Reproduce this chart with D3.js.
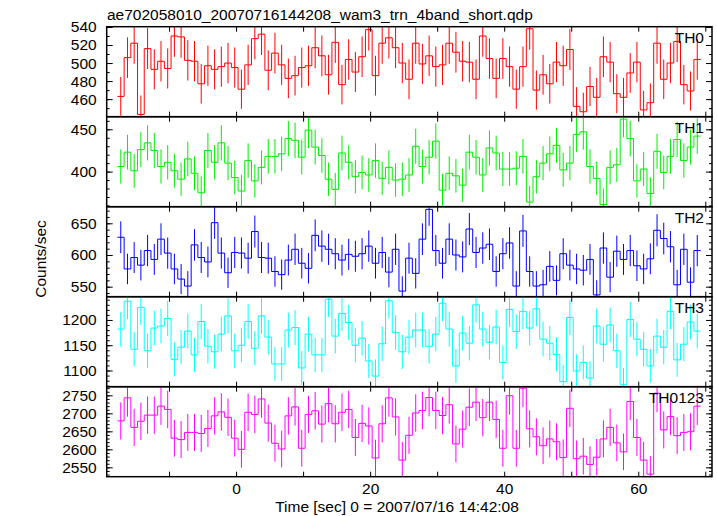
<!DOCTYPE html>
<html><head><meta charset="utf-8">
<script src="https://cdn.jsdelivr.net/npm/d3@7"></script>
<style>
body{margin:0;background:#fff;}
svg{display:block;font-family:"Liberation Sans",Arial,Helvetica,sans-serif;}
</style></head>
<body>
<svg id="chart" width="717" height="516"></svg>
<script>
const title = "ae702058010_20070716144208_wam3_trn_4band_short.qdp";
const xLabel = "Time [sec] 0 = 2007/07/16 14:42:08";
const yLabel = "Counts/sec";
const panelNames = ["TH0","TH1","TH2","TH3","TH0123"];
const colors = ["#ff0000","#00ee00","#0000ff","#00ffff","#ff00ff"];
const binWidth = 1;
const time = [-17.2,-16.2,-15.2,-14.2,-13.2,-12.2,-11.2,-10.2,-9.2,-8.2,
-7.2,-6.2,-5.2,-4.2,-3.2,-2.2,-1.2,-0.2,0.8,1.8,
2.8,3.8,4.8,5.8,6.8,7.8,8.8,9.8,10.8,11.8,
12.8,13.8,14.8,15.8,16.8,17.8,18.8,19.8,20.8,21.8,
22.8,23.8,24.8,25.8,26.8,27.8,28.8,29.8,30.8,31.8,
32.8,33.8,34.8,35.8,36.8,37.8,38.8,39.8,40.8,41.8,
42.8,43.8,44.8,45.8,46.8,47.8,48.8,49.8,50.8,51.8,
52.8,53.8,54.8,55.8,56.8,57.8,58.8,59.8,60.8,61.8,
62.8,63.8,64.8,65.8,66.8,67.8,68.8];
const th0 = [463,506,522,443,516,493,502,494,530,529,503,502,477,497,493,496,500,495,471,498,527,532,492,511,498,483,486,495,497,517,508,487,523,476,504,490,507,537,486,522,528,517,500,482,522,499,508,496,498,522,512,502,501,482,530,505,483,505,496,471,496,538,470,487,477,501,497,515,452,446,474,462,507,501,466,462,489,501,448,456,522,482,500,524,476,469,504];
const th1 = [406,423,401,426,434,425,406,411,401,391,415,398,375,425,411,434,410,393,377,413,389,405,418,418,421,439,437,417,449,429,419,391,379,422,411,394,399,396,413,392,405,390,391,396,430,406,417,436,378,398,395,384,423,417,396,428,422,403,403,404,418,364,394,410,421,431,402,410,444,447,406,392,361,405,408,462,439,389,403,374,424,399,418,438,413,429,442];
const th2 = [628,578,596,584,607,593,625,603,578,562,551,616,596,589,651,603,572,604,603,595,637,596,595,574,569,592,609,587,579,631,614,609,602,592,601,598,602,614,587,604,573,609,543,595,571,625,672,607,587,625,600,597,641,604,611,617,574,602,619,551,638,574,551,553,582,560,602,584,578,576,593,537,611,565,606,593,607,583,578,594,639,626,613,553,609,557,607];
const th3 = [1182,1237,1142,1225,1139,1184,1188,1203,1122,1146,1178,1131,1197,1148,1137,1172,1208,1139,1150,1197,1144,1208,1166,1113,1113,1180,1185,1105,1172,1131,1131,1241,1168,1213,1195,1150,1164,1119,1089,1153,1238,1175,1137,1166,1180,1180,1148,1172,1233,1182,1109,1174,1154,1230,1182,1156,1186,1116,1221,1177,1217,1184,1222,1162,1154,1132,1078,1205,1099,1116,1085,1188,1152,1190,1139,1072,1201,1162,1142,1109,1168,1146,1217,1121,1152,1196,1178];
const th0123 = [2679,2743,2661,2678,2695,2695,2720,2711,2631,2627,2647,2647,2644,2658,2693,2704,2689,2631,2600,2703,2697,2740,2673,2617,2601,2693,2718,2603,2697,2707,2670,2727,2671,2703,2711,2633,2672,2665,2576,2671,2743,2690,2570,2639,2701,2708,2744,2708,2694,2724,2615,2656,2717,2731,2688,2731,2683,2603,2749,2603,2770,2657,2635,2610,2629,2621,2577,2714,2574,2581,2558,2578,2629,2661,2618,2593,2733,2633,2570,2531,2756,2654,2691,2638,2647,2649,2720];
const series = [th0, th1, th2, th3, th0123];
const yDomains = [[440.5,540.3],[358.5,464.9],[534.2,676.2],[1068,1246],[2524,2774]];
const yMajorTicks = [[460,480,500,520,540],[400,450],[550,600,650],[1100,1150,1200],[2550,2600,2650,2700,2750]];
const yMinorStep = [10,10,10,10,10];
const xDomain = [-19.3, 71.0];
const xTicks = [-10,0,10,20,30,40,50,60,70];
const xTickLabels = [0,20,40,60];

const svg = d3.select("#chart");
const left = 106.7, right = 712, top0 = 26.7, panelH = 90, fs = 15.5;
const x = d3.scaleLinear().domain(xDomain).range([left, right]);

svg.append("text").attr("x", 107).attr("y", 20).attr("font-size", fs).text(title);

series.forEach((vals, i) => {
  const top = top0 + i * panelH, bot = top + panelH;
  const y = d3.scaleLinear().domain(yDomains[i]).range([bot, top]);
  const g = svg.append("g");
  const cid = "clip" + i;
  svg.append("clipPath").attr("id", cid).append("rect")
    .attr("x", left).attr("y", top).attr("width", right - left).attr("height", panelH);
  const dg = g.append("g").attr("clip-path", `url(#${cid})`);
  const data = vals.map((v, k) => ({t: time[k], v: v, e: Math.sqrt(v * binWidth) / binWidth}));
  dg.selectAll("line.err").data(data).join("line").attr("class","err")
    .attr("x1", d => x(d.t)).attr("x2", d => x(d.t))
    .attr("y1", d => y(d.v - d.e)).attr("y2", d => y(d.v + d.e))
    .attr("stroke", colors[i]).attr("stroke-width", 1);
  const pts = [];
  data.forEach(d => { pts.push([d.t - binWidth/2, d.v]); pts.push([d.t + binWidth/2, d.v]); });
  dg.append("path").datum(pts)
    .attr("d", d3.line().x(p => x(p[0])).y(p => y(p[1])))
    .attr("fill","none").attr("stroke", colors[i]).attr("stroke-width", 1);

  const minors = d3.range(Math.ceil(yDomains[i][0]/yMinorStep[i])*yMinorStep[i], yDomains[i][1], yMinorStep[i]);
  const axL = g.append("g").attr("transform", `translate(${left},0)`)
    .call(d3.axisLeft(y).tickValues(yMajorTicks[i]).tickSize(-6).tickPadding(10).tickFormat(d3.format("d")));
  axL.select(".domain").remove();
  axL.selectAll("text").attr("font-size", fs).attr("font-family", "Liberation Sans,Arial,sans-serif").attr("fill","#000");
  const axLm = g.append("g").attr("transform", `translate(${left},0)`)
    .call(d3.axisLeft(y).tickValues(minors).tickSize(-3).tickFormat(""));
  axLm.select(".domain").remove();
  const axR = g.append("g").attr("transform", `translate(${right},0)`)
    .call(d3.axisRight(y).tickValues(yMajorTicks[i]).tickSize(-6).tickFormat(""));
  axR.select(".domain").remove();
  const axRm = g.append("g").attr("transform", `translate(${right},0)`)
    .call(d3.axisRight(y).tickValues(minors).tickSize(-3).tickFormat(""));
  axRm.select(".domain").remove();
  const axT = g.append("g").attr("transform", `translate(0,${top})`)
    .call(d3.axisTop(x).tickValues(xTicks).tickSize(-5).tickFormat(""));
  axT.select(".domain").remove();
  const axB = g.append("g").attr("transform", `translate(0,${bot})`)
    .call(d3.axisBottom(x).tickValues(xTicks).tickSize(-5).tickPadding(6)
      .tickFormat(d => (i === series.length - 1 && xTickLabels.includes(d)) ? d3.format("d")(d) : ""));
  axB.select(".domain").remove();
  axB.selectAll("text").attr("font-size", fs).attr("font-family", "Liberation Sans,Arial,sans-serif").attr("fill","#000");
  g.selectAll(".tick line").attr("stroke","#000");
  g.append("rect").attr("x", left).attr("y", top).attr("width", right - left).attr("height", panelH)
    .attr("fill","none").attr("stroke","#000").attr("stroke-width",1.5);
  g.append("text").attr("x", 704).attr("y", top + 16.5).attr("text-anchor","end")
    .attr("font-size", fs).text(panelNames[i]);
});

svg.append("text").attr("x", 397).attr("y", 512).attr("text-anchor","middle")
  .attr("font-size", fs).text(xLabel);
svg.append("text").attr("transform", "translate(46,259) rotate(-90)")
  .attr("text-anchor","middle").attr("font-size", fs).text(yLabel);
</script>
</body></html>
